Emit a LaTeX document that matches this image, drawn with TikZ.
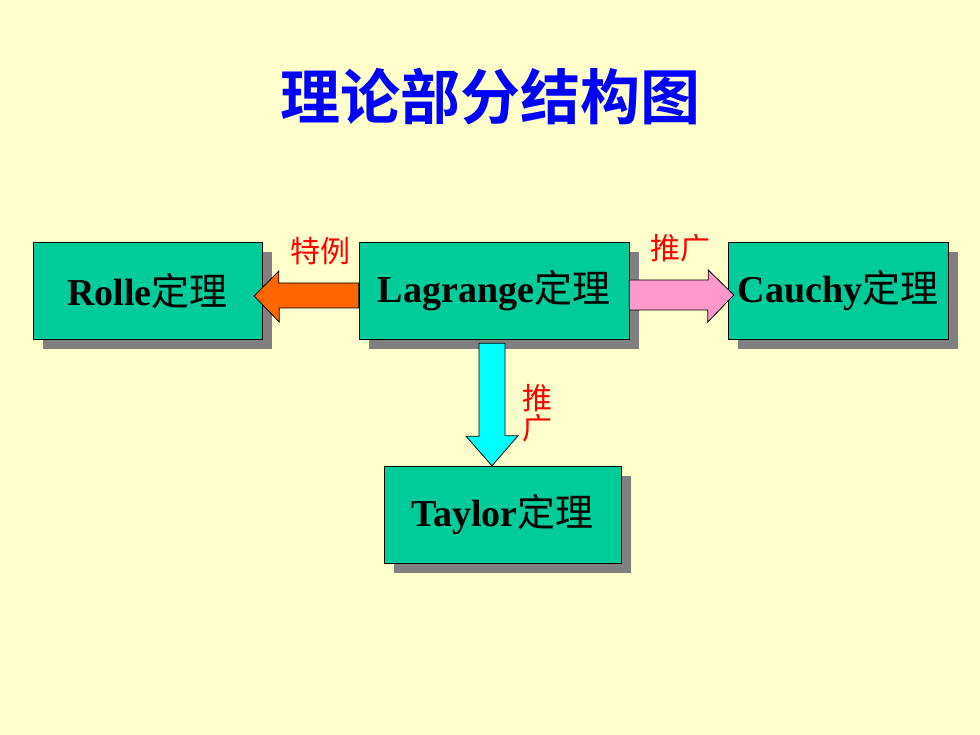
\documentclass[tikz,border=0pt]{standalone}
\usepackage{fontspec}
\setmainfont{Liberation Serif}
\newfontfamily\cjk{Noto Sans CJK SC}[BoldFont={Noto Sans CJK SC Bold}]
\usetikzlibrary{positioning, shadows, calc}
\definecolor{bg}{HTML}{FFFFCC}
\definecolor{thmfill}{HTML}{00CC99}
\definecolor{shd}{HTML}{808080}
\definecolor{org}{HTML}{FF6600}
\definecolor{pnk}{HTML}{FF99CC}
\definecolor{cyn}{HTML}{00FFFF}
\definecolor{ttl}{HTML}{0000FF}
\newcommand{\dl}{{\cjk\mdseries 定理}}
\tikzstyle{thm}=[draw=black,fill=thmfill,inner sep=0pt,minimum height=97pt,font=\fontsize{38}{38}\selectfont\bfseries,drop shadow={shadow xshift=10pt,shadow yshift=-10pt,fill=shd,opacity=1}]
\tikzstyle{blk}=[draw=black,line width=0.8pt,line join=miter]
\tikzstyle{lbl}=[text=red,inner sep=0pt,font=\cjk\fontsize{30}{30}\selectfont]

\begin{document}
\begin{tikzpicture}[x=1pt,y=-1pt]
    \fill[bg] (0,0) rectangle (980,735);
    \useasboundingbox (0,0) rectangle (980,735);
    \node[font=\cjk\bfseries\fontsize{60}{60}\selectfont,text=ttl] (title) at (490,97) {理论部分结构图};
    % theorem boxes
    \node[thm,minimum width=229pt] (rolle) at (147.5,290.5) {Rolle\dl};
    \node[thm,minimum width=270pt] (lag) at (494,290.5) {Lagrange\dl};
    \node[thm,minimum width=220pt] (cau) at (838,290.5) {Cauchy\dl};
    \node[thm,minimum width=237pt] (tay) at (502.5,514.5) {Taylor\dl};
    % block arrows
    \draw[blk,fill=org] ($(lag.west)+(0,-7.5)$) -- ++(-80,0) -- ++(0,-12)
        -- ($(rolle.east)+(-8,5.5)$) -- ++(25,26) -- ++(0,-14)
        -- ($(lag.west)+(0,17.5)$) -- cycle;
    \draw[blk,fill=pnk] ($(lag.east)+(0,-10.5)$) -- ++(79,0) -- ++(0,-10)
        -- ($(cau.west)+(6,4.5)$) -- ++(-26,27) -- ++(0,-12)
        -- ($(lag.east)+(0,19.5)$) -- cycle;
    \draw[blk,fill=cyn] ($(lag.south)+(-15,4)$) -- ++(0,93) -- ++(-13,0)
        -- ($(tay.north)+(-10.5,0)$) -- ++(26,-30) -- ++(-13,0)
        -- ($(lag.south)+(11,4)$) -- cycle;
    % labels
    \node[lbl] (spec) at (320,251) {特例};
    \node[lbl] (genr) at (680,248) {推广};
    \node[lbl,align=center] (gend) at (537,413) {推\\广};
\end{tikzpicture}
\end{document}
